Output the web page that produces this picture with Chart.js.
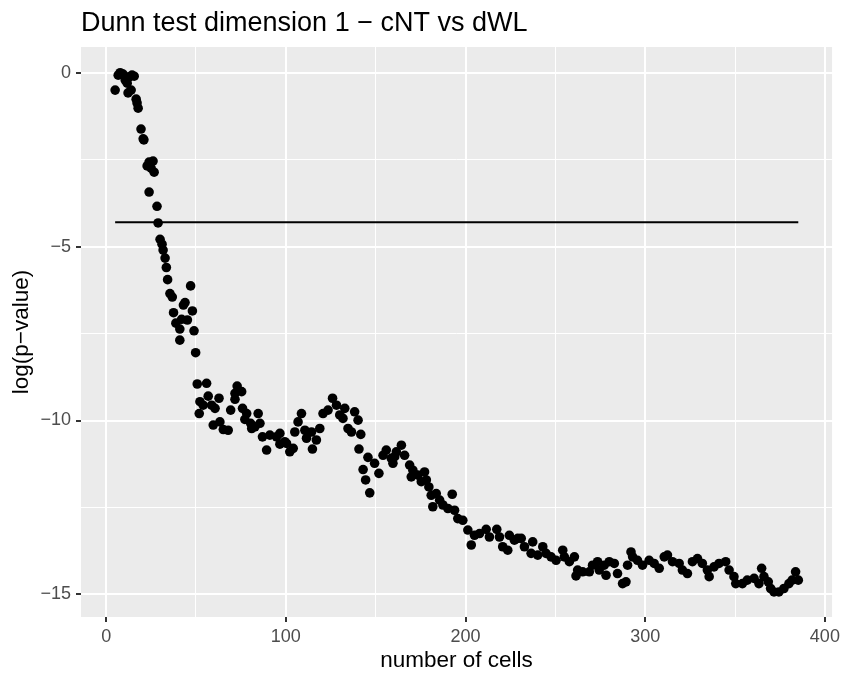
<!DOCTYPE html>
<html>
<head>
<meta charset="utf-8">
<script src="https://cdn.jsdelivr.net/npm/chart.js@4.4.1/dist/chart.umd.min.js"></script>
<style>
  body { margin: 0; background: #fff; }
  #wrap { width: 844px; height: 686px; }
</style>
</head>
<body>
<div id="wrap"><canvas id="mygraph" width="844" height="686"></canvas></div>
<script>
// number of cells vs log(p-value)
var cells = [5,6.7,7.8,9.4,10.6,11.7,12.2,12.8,13.9,14.4,15.6,16.7,17.2,17.8,19.4,20.6,21,22.8,23.9,23.9,
  25,26.1,26.7,28.3,28.9,30,31.1,31.7,32.8,33.5,34.2,35.5,36.8,37.5,38.8,41,41,42,43,43.9,
  45.2,47,48,48.9,49.8,50.7,51.8,52.2,54,55.9,56.8,58.7,59.6,60.6,62.8,63.3,65.2,67.9,69.3,71.7,
  71.7,72.9,75.4,75.9,77.2,78.2,80.4,81,82.8,84.6,85.6,87,89.3,91.1,94.8,96.7,96.7,99.4,100.4,102.2,
  104.1,105,106.8,108.7,110.6,111.5,114.3,114.8,117,118.9,120.7,123.5,126,128.2,130,131.8,132.8,134.6,136.5,138.3,
  140.2,140.7,141.7,143,144.4,145.7,146.7,149.4,151.8,154.1,155.9,158.7,159.6,160.6,161.5,164.3,166.1,168.9,169.8,170.7,
  173.5,175.4,177.2,178.2,179.6,180.9,181.8,183.7,185.6,187.4,190.2,192.6,193.9,195.7,198.5,201.3,203.2,205,207.8,211.5,
  213.3,217.4,218.9,220.7,223.5,224.4,227.2,229.1,231,232.8,236.5,237.4,240.2,243,244.8,247.6,250.4,254.1,255,257.8,
  260.6,261.5,262.4,265.2,268.9,270.7,273.5,274.4,277.2,278.2,280,282.8,284.6,287.4,289.3,290.2,292.1,293,295.7,298.5,
  302.2,305,307.8,310.6,312.4,315.2,318.9,320.7,323.5,326.3,329.1,331.8,334.6,335.6,338.3,341.1,344.8,346.7,349.4,350.4,
  354.1,356.8,360.6,363.3,364.8,366.1,368.5,369.8,371.7,374.4,377.2,380,381.8,383.7,385.2];
var logp = [-0.5,-0.07,0,-0.04,-0.21,-0.3,-0.58,-0.12,-0.5,-0.07,-0.1,-0.76,-0.87,-1.02,-1.62,-1.9,-1.93,-2.68,-2.57,-3.43,
  -2.74,-2.54,-2.86,-3.84,-4.32,-4.79,-4.93,-5.1,-5.33,-5.6,-5.95,-6.35,-6.45,-6.9,-7.2,-7.37,-7.69,-7.09,-6.68,-6.61,
  -7.11,-6.13,-6.85,-7.42,-8.05,-8.95,-9.8,-9.46,-9.56,-8.93,-9.3,-9.56,-10.13,-9.65,-9.36,-10.04,-10.26,-10.28,-9.7,-9.22,
  -9.39,-9.01,-9.17,-9.65,-9.97,-9.8,-10.08,-10.23,-10.18,-9.8,-10.08,-10.47,-10.85,-10.42,-10.47,-10.68,-10.37,-10.61,-10.66,-10.9,
  -10.8,-10.33,-10.04,-9.8,-10.28,-10.51,-10.33,-10.82,-10.56,-10.23,-9.8,-9.7,-9.36,-9.56,-9.84,-9.94,-9.65,-10.23,-10.33,-9.75,
  -9.99,-10.82,-10.4,-11.41,-11.71,-11.06,-12.08,-11.23,-11.52,-11,-10.85,-11.09,-11.23,-11.04,-10.9,-10.71,-11,-11.28,-11.62,-11.43,
  -11.57,-11.76,-11.48,-11.71,-11.91,-12.15,-12.48,-12.1,-12.29,-12.43,-12.53,-12.12,-12.58,-12.82,-12.87,-13.15,-13.58,-13.3,-13.25,-13.13,
  -13.35,-13.13,-13.35,-13.63,-13.73,-13.3,-13.44,-13.39,-13.39,-13.63,-13.82,-13.49,-13.87,-13.63,-13.82,-13.92,-14.02,-13.73,-13.92,-14.06,
  -13.92,-14.47,-14.3,-14.35,-14.35,-14.16,-14.06,-14.3,-14.16,-14.45,-14.06,-14.11,-14.4,-14.69,-14.64,-14.16,-13.78,-13.92,-14.02,-14.16,
  -14.02,-14.11,-14.25,-13.92,-13.87,-14.06,-14.11,-14.3,-14.4,-14.06,-13.97,-14.11,-14.3,-14.49,-14.21,-14.11,-14.06,-14.3,-14.49,-14.69,
  -14.69,-14.59,-14.54,-14.69,-14.25,-14.49,-14.64,-14.83,-14.93,-14.93,-14.83,-14.69,-14.59,-14.35,-14.59];
var threshold = -4.3;
var xMajor = [0, 100, 200, 300, 400];
var xMinor = [50, 150, 250, 350];
var yMajor = [0, -5, -10, -15];
var yMinor = [-2.5, -7.5, -12.5];

var points = cells.map(function (c, i) { return { x: c, y: logp[i] }; });
var xFirst = Math.min.apply(null, cells);
var xLast = Math.max.apply(null, cells);

function isMajor(list, v) { return list.indexOf(v) >= 0; }
function minus(v) { return String(v).replace('-', '\u2212'); }

var panel = {
  id: 'panel',
  beforeDraw: function (chart) {
    var a = chart.chartArea, c = chart.ctx;
    c.save();
    c.fillStyle = '#ebebeb';
    c.fillRect(a.left, a.top, a.right - a.left, a.bottom - a.top);
    c.restore();
  },
  afterDraw: function (chart) {
    var a = chart.chartArea, c = chart.ctx;
    c.save();
    c.fillStyle = '#000';
    c.font = '27px "Liberation Sans", Arial, sans-serif';
    c.textAlign = 'left';
    c.textBaseline = 'alphabetic';
    c.fillText('Dunn test dimension 1 \u2212 cNT vs dWL', a.left, 31);
    c.font = '22.5px "Liberation Sans", Arial, sans-serif';
    c.textAlign = 'center';
    c.textBaseline = 'middle';
    c.fillText('number of cells', (a.left + a.right) / 2, 661);
    c.translate(22, (a.top + a.bottom) / 2);
    c.rotate(-Math.PI / 2);
    c.fillText('log(p\u2212value)', 0, 0);
    c.restore();
  }
};

var tickFont = { family: '"Liberation Sans", Arial, sans-serif', size: 18 };

var ctx = document.getElementById('mygraph');
var mygraph = new Chart(ctx, {
  type: 'scatter',
  data: {
    datasets: [
      {
        type: 'line',
        data: [{ x: xFirst, y: threshold }, { x: xLast, y: threshold }],
        borderColor: '#000',
        borderWidth: 2,
        pointRadius: 0,
        fill: false
      },
      {
        data: points,
        backgroundColor: '#000',
        borderColor: '#000',
        borderWidth: 0,
        pointRadius: 4.8
      }
    ]
  },
  options: {
    responsive: false,
    animation: false,
    devicePixelRatio: 1,
    layout: { padding: { top: 47, right: 11, left: 0, bottom: 0 } },
    plugins: { legend: { display: false }, tooltip: { enabled: false } },
    scales: {
      x: {
        type: 'linear',
        min: -14,
        max: 404,
        afterFit: function (s) { s.height = 69; },
        afterBuildTicks: function (s) {
          s.ticks = xMajor.concat(xMinor).sort(function (a, b) { return a - b; }).map(function (v) { return { value: v }; });
        },
        border: { display: false },
        grid: {
          color: '#fff',
          lineWidth: function (c) { return c.tick && isMajor(xMajor, c.tick.value) ? 2 : 1; },
          tickColor: function (c) { return c.tick && isMajor(xMajor, c.tick.value) ? '#333' : 'rgba(0,0,0,0)'; },
          tickLength: 5,
          tickWidth: 2
        },
        ticks: {
          autoSkip: false,
          maxRotation: 0,
          padding: 4,
          color: '#4d4d4d',
          font: tickFont,
          callback: function (v) { return isMajor(xMajor, v) ? minus(v) : ''; }
        }
      },
      y: {
        type: 'linear',
        min: -15.65,
        max: 0.74,
        afterFit: function (s) { s.width = 81; },
        afterBuildTicks: function (s) {
          s.ticks = yMajor.concat(yMinor).sort(function (a, b) { return a - b; }).map(function (v) { return { value: v }; });
        },
        border: { display: false },
        grid: {
          color: '#fff',
          lineWidth: function (c) { return c.tick && isMajor(yMajor, c.tick.value) ? 2 : 1; },
          tickColor: function (c) { return c.tick && isMajor(yMajor, c.tick.value) ? '#333' : 'rgba(0,0,0,0)'; },
          tickLength: 5,
          tickWidth: 2
        },
        ticks: {
          autoSkip: false,
          padding: 5,
          color: '#4d4d4d',
          font: tickFont,
          callback: function (v) { return isMajor(yMajor, v) ? minus(v) : ''; }
        }
      }
    }
  },
  plugins: [panel]
});
</script>
</body>
</html>
